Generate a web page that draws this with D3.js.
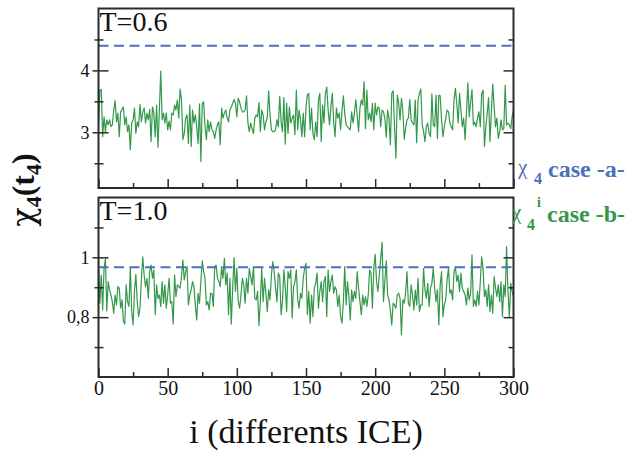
<!DOCTYPE html>
<html>
<head>
<meta charset="utf-8">
<script src="https://cdn.jsdelivr.net/npm/d3@7"></script>
<style>
  body { margin: 0; background: #fff; }
  text { font-family: "Liberation Serif", "Times New Roman", serif; }
</style>
</head>
<body>
<div id="chart"></div>
<script>
// Data - chi4 of each ICE (i = 0..300)
const chiTop = [
  3.12,3.68,3.69,2.93,3.25,3.01,3.20,3.12,3.20,3.09,
  3.12,3.36,3.51,3.17,3.31,2.93,3.33,3.37,3.41,3.12,
  3.25,
  3.01,3.12,2.72,3.15,3.20,3.39,2.98,3.17,3.09,3.45,
  3.17,3.33,3.39,3.15,3.31,3.20,3.37,2.85,3.41,3.31,
  2.93,3.44,2.76,3.36,3.99,3.20,3.31,3.15,3.31,3.04,
  3.18,
  3.04,3.31,3.28,3.44,3.36,3.52,3.23,3.70,3.52,2.88,
  2.98,3.23,3.28,2.82,3.44,2.77,3.36,3.15,3.28,3.09,
  2.82,3.46,2.53,3.47,3.49,3.09,2.88,3.20,3.01,3.17,
  3.04,3.01,2.90,3.04,3.12,3.17,2.80,3.39,3.23,3.31,
  3.36,3.23,3.17,3.36,3.41,3.47,3.53,3.47,3.25,
  3.55,3.49,3.39,3.33,3.33,3.36,3.59,3.15,3.01,
  3.15,3.06,2.98,3.23,3.28,3.25,3.48,3.01,3.36,3.28,
  3.04,3.17,3.23,3.67,3.28,3.04,3.01,3.01,3.04,3.20,
  3.09,3.58,3.17,3.01,3.56,2.81,3.47,2.98,3.41,3.15,
  3.23,3.28,2.96,3.68,3.04,3.36,3.20,2.93,3.31,2.93,
  3.41,3.60,3.63,3.04,3.39,2.98,2.88,3.17,2.93,3.52,
  3.63,2.85,3.44,3.15,3.63,3.73,3.36,3.12,3.41,3.63,
  3.17,2.93,3.39,3.23,3.31,3.04,3.33,3.59,3.31,3.12,
  3.09,3.06,3.04,3.33,3.15,3.31,3.53,3.28,3.01,3.39,
  3.52,3.44,3.82,3.06,3.68,3.20,3.31,3.17,3.47,3.04,
  3.47,3.28,3.41,
  3.39,3.09,3.36,3.33,3.23,2.92,3.36,3.23,2.80,3.63,
  3.67,3.09,2.58,3.60,3.47,3.20,3.55,3.36,2.89,3.06,
  3.20,3.23,3.53,3.20,3.15,3.12,3.52,2.83,
  3.52,3.63,3.70,3.12,3.01,2.85,3.09,3.15,2.98,2.93,
  3.62,3.12,3.09,3.60,2.90,3.60,3.59,3.20,2.93,3.09,
  3.23,3.36,3.33,3.15,3.09,3.04,3.52,3.71,3.47,
  3.15,3.63,3.36,3.09,3.23,2.88,3.31,3.80,3.25,3.49,
  3.69,3.12,3.16,3.09,3.23,3.33,3.09,3.63,3.68,2.77,
  3.09,3.31,3.56,2.85,3.33,3.78,3.41,3.09,3.23,2.90,
  3.01,3.20,3.04,3.06,3.76,3.12,3.15,3.12,3.06,
  3.25,3.36
]

const chiBottom = [
  0.986,0.847,0.941,0.824,0.963,0.994,0.821,0.919,0.891,0.874,
  0.852,0.813,0.874,0.841,0.902,0.897,0.830,0.858,0.786,0.777,
  0.908,0.852,0.836,0.966,0.819,0.774,0.886,0.943,0.852,0.802,
  0.830,0.924,1.002,0.941,0.902,0.930,0.863,0.952,0.974,0.930,
  0.958,0.808,0.908,0.863,0.874,0.836,0.919,0.847,0.908,0.830,
  0.874,0.930,0.847,0.852,0.777,0.941,0.869,0.908,0.902,
  0.897,0.936,0.991,0.924,0.952,0.969,0.841,0.874,0.891,0.919,
  0.902,0.841,0.791,0.880,0.847,0.919,0.988,0.952,0.930,
  0.841,0.852,0.824,0.880,0.880,0.836,0.969,0.974,
  0.930,0.919,0.902,0.969,0.930,0.997,0.908,0.947,0.808,0.930,
  0.777,0.897,0.999,0.886,0.963,
  0.852,0.830,0.874,0.930,0.908,0.847,0.930,0.880,0.963,
  0.936,0.908,0.969,0.863,0.858,0.886,0.772,0.852,0.963,0.852,
  0.930,0.880,0.819,0.891,0.858,0.941,0.986,0.952,0.897,0.852,
  0.947,0.936,0.808,0.852,0.958,0.902,0.819,0.952,0.930,0.958,
  0.797,0.902,0.919,0.958,0.858,0.830,0.880,0.863,0.930,0.963,
  0.980,0.808,0.886,0.780,0.874,0.802,0.897,0.913,0.947,0.830,
  0.886,0.919,0.852,0.919,0.936,0.802,0.958,0.886,0.919,0.941,
  0.880,0.902,0.891,0.836,0.874,0.802,0.780,0.852,0.969,0.841,
  0.919,0.869,0.791,0.891,0.852,0.886,0.863,0.952,0.897,
  0.852,0.808,0.874,0.841,0.869,0.836,0.874,0.958,
  0.947,0.830,0.963,1.010,0.919,0.886,
  0.941,0.997,1.050,0.852,0.919,0.988,0.874,0.858,0.824,0.774,
  0.847,0.841,0.830,0.874,0.880,0.863,0.741,0.858,0.847,0.880,
  0.952,0.847,0.836,0.908,0.874,0.824,0.891,0.841,0.930,0.819,
  0.841,0.841,0.963,0.891,0.863,0.913,0.836,0.897,
  0.913,0.963,0.897,0.852,0.891,0.774,0.908,0.952,0.802,0.841,
  0.858,0.924,0.963,0.880,0.891,0.858,0.952,0.969,0.919,0.941,
  0.886,0.947,0.897,0.886,0.874,0.841,0.897,0.858,0.880,
  1.008,0.836,0.858,0.836,0.886,0.841,0.919,1.002,0.963,0.869,
  0.891,0.836,0.908,0.819,0.874,0.813,0.936,0.897,0.869,0.908,
  0.852,0.919,0.802,0.908,0.869,1.036,0.886,0.802,0.913,0.886,
  0.869
]

// chi4 case -a- (dashed reference level of each panel)
const caseA = [4.40, 0.967]
const panelLabels = ["T=0.6", "T=1.0"]

// Ticks
const xMajor = [0, 50, 100, 150, 200, 250, 300]
const xMinor = [25, 75, 125, 175, 225, 275]
const topMajor = [3, 4]
const topMinor = [2.5, 3.5, 4.5]
const bottomMajor = [0.8, 1]
const bottomMinor = [0.7, 0.9, 1.1]
const bottomTickLabels = ["0,8", "1"]

// Constants
const width = 628
const height = 454
const blue = "#4a72b8"
const green = "#33984a"
const frameColor = "#2b2b2b"
const serif = "Liberation Serif, Times New Roman, serif"
const greek = "DejaVu Serif, serif"

const svg = d3.select("#chart")
    .append("svg")
    .attr("width", width)
    .attr("height", height)

const x = d3.scaleLinear()
    .domain([0, 300])
    .range([98.5, 513.5])

const panels = [
    {label: panelLabels[0], values: chiTop, level: caseA[0], domain: [2.1, 5], range: [188, 8.5],
     major: topMajor, minor: topMinor, fmt: d => d, xLabels: false},
    {label: panelLabels[1], values: chiBottom, level: caseA[1], domain: [0.6, 1.2], range: [377, 197.5],
     major: bottomMajor, minor: bottomMinor, fmt: d => bottomTickLabels[bottomMajor.indexOf(d)], xLabels: true}
]

panels.forEach((p, k) => drawPanel(p, k))

function styleAxis(g) {
    g.attr("font-family", serif)
    g.select(".domain").remove()
    g.selectAll(".tick line").attr("stroke", frameColor).attr("stroke-width", 1.5)
    g.selectAll(".tick text").attr("fill", "#111")
}

function drawPanel(p, k) {
    const y = d3.scaleLinear().domain(p.domain).range(p.range)
    const g = svg.append("g").attr("id", "panel" + k)
    const x0 = x(0), x1 = x(300), yb = p.range[0], yt = p.range[1]

    g.append("clipPath").attr("id", "clip" + k)
        .append("rect")
        .attr("x", x0).attr("y", yt).attr("width", x1 - x0).attr("height", yb - yt)

    // green series (case -b-)
    g.append("path")
        .datum(p.values)
        .attr("clip-path", `url(#clip${k})`)
        .attr("fill", "none")
        .attr("stroke", green)
        .attr("stroke-width", 1.2)
        .attr("stroke-linejoin", "round")
        .attr("d", d3.line().x((d, i) => x(i)).y(d => y(d)))

    // dashed level (case -a-)
    g.append("line")
        .attr("x1", x0).attr("x2", x1)
        .attr("y1", y(p.level)).attr("y2", y(p.level))
        .attr("stroke", blue)
        .attr("stroke-width", 2)
        .attr("stroke-dasharray", "10,5.5")

    // left axis: labels + outward ticks, and inward ticks
    const left = g.append("g").attr("transform", `translate(${x0},0)`)
    left.append("g")
        .call(d3.axisLeft(y).tickValues(p.major).tickSize(6).tickPadding(3).tickFormat(p.fmt))
        .call(styleAxis)
        .selectAll("text").attr("font-size", 18)
    left.append("g").call(d3.axisLeft(y).tickValues(p.major).tickSize(-10).tickFormat("")).call(styleAxis)
    left.append("g").call(d3.axisLeft(y).tickValues(p.minor).tickSize(4).tickFormat("")).call(styleAxis)
    left.append("g").call(d3.axisLeft(y).tickValues(p.minor).tickSize(-5).tickFormat("")).call(styleAxis)

    // right axis: inward ticks
    const right = g.append("g").attr("transform", `translate(${x1},0)`)
    right.append("g").call(d3.axisRight(y).tickValues(p.major).tickSize(-10).tickFormat("")).call(styleAxis)
    right.append("g").call(d3.axisRight(y).tickValues(p.minor).tickSize(-5).tickFormat("")).call(styleAxis)

    // bottom axis: inward ticks, labels on the lower panel only
    const bottom = g.append("g").attr("transform", `translate(0,${yb})`)
    const xAxis = d3.axisBottom(x).tickValues(xMajor).tickSize(-9).tickPadding(4)
    if (!p.xLabels) xAxis.tickFormat("")
    bottom.append("g").call(xAxis).call(styleAxis)
        .selectAll("text").attr("font-size", 20)
    bottom.append("g").call(d3.axisBottom(x).tickValues(xMinor).tickSize(-5).tickFormat("")).call(styleAxis)

    // frame
    g.append("rect")
        .attr("x", x0).attr("y", yt)
        .attr("width", x1 - x0).attr("height", yb - yt)
        .attr("fill", "none")
        .attr("stroke", frameColor)
        .attr("stroke-width", 2)

    // temperature label
    g.append("text")
        .attr("x", x0 + 1)
        .attr("y", yt + 22.5)
        .attr("font-size", 28)
        .attr("fill", "#111")
        .text(p.label)
}

// x title
svg.append("text")
    .attr("x", 306)
    .attr("y", 443)
    .attr("text-anchor", "middle")
    .attr("font-size", 34)
    .attr("fill", "#111")
    .text("i (differents ICE)")

// y title: chi_4(t_4)
const yTitle = svg.append("text")
    .attr("transform", "translate(34,190) rotate(-90)")
    .attr("text-anchor", "middle")
    .attr("font-size", 32)
    .attr("font-weight", "bold")
    .attr("fill", "#111")
yTitle.append("tspan").attr("font-family", greek).attr("font-weight", "normal").text("χ")
yTitle.append("tspan").attr("font-size", 22).attr("dy", 7).text("4")
yTitle.append("tspan").attr("dy", -7).text("(t")
yTitle.append("tspan").attr("font-size", 22).attr("dy", 7).text("4")
yTitle.append("tspan").attr("dy", -7).text(")")

// legend: case -a-
const legA = svg.append("g").attr("fill", blue)
legA.append("text").attr("x", 518).attr("y", 174).attr("font-size", 21).attr("font-family", greek).text("χ")
legA.append("text").attr("x", 534).attr("y", 184).attr("font-size", 16).attr("font-weight", "bold").text("4")
legA.append("text").attr("x", 548).attr("y", 177).attr("font-size", 24).attr("font-weight", "bold").text("case -a-")

// legend: case -b-
const legB = svg.append("g").attr("fill", green)
legB.append("text").attr("x", 512).attr("y", 219).attr("font-size", 21).attr("font-family", greek).text("χ")
legB.append("text").attr("x", 527).attr("y", 230).attr("font-size", 16).attr("font-weight", "bold").text("4")
legB.append("text").attr("x", 537).attr("y", 207).attr("font-size", 14).attr("font-weight", "bold").text("i")
legB.append("text").attr("x", 547).attr("y", 222).attr("font-size", 24).attr("font-weight", "bold").text("case -b-")
</script>
</body>
</html>
